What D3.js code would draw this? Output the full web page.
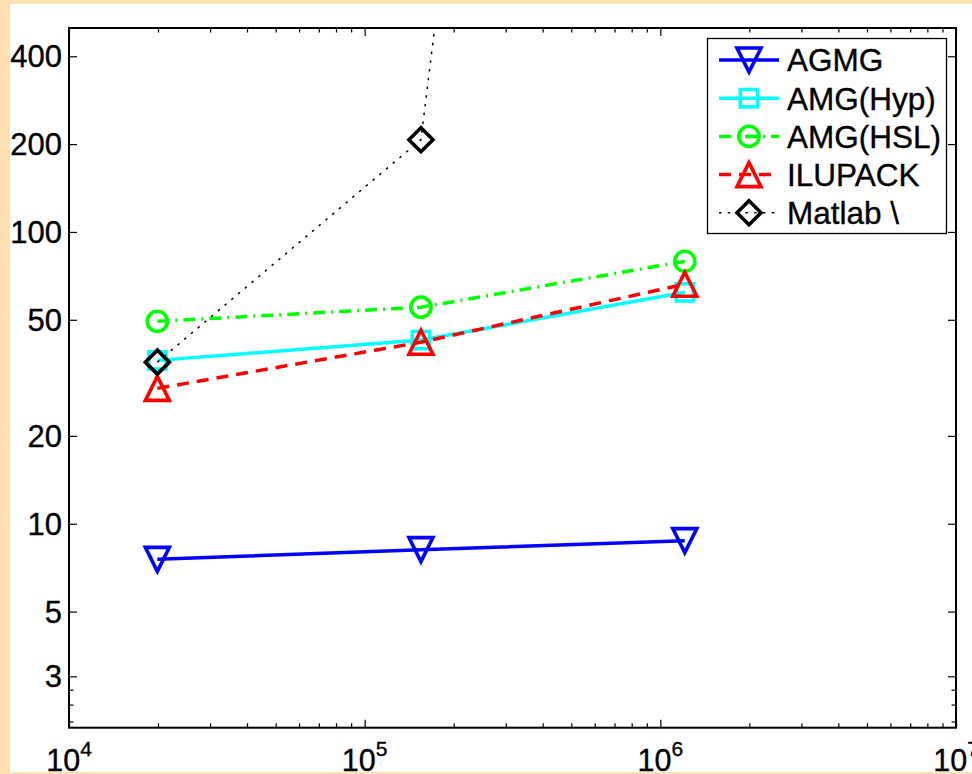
<!DOCTYPE html>
<html>
<head>
<meta charset="utf-8">
<script src="https://cdn.jsdelivr.net/npm/d3@7"></script>
<style>
  html, body { margin: 0; padding: 0; background: #FFE0B0; }
  svg { display: block; }
  text { font-family: "Liberation Sans", Arial, Helvetica, sans-serif; }
</style>
</head>
<body>
<svg id="chart" width="972" height="774"></svg>
<script>
// Problem sizes (x) and solve times (y) for each solver
const sizes = [19900, 155000, 1210000];
const seriesNames = ["AGMG", "AMG(Hyp)", "AMG(HSL)", "ILUPACK", "Matlab \\"];
const agmg    = [7.55, 8.15, 8.75];
const amgHyp  = [36.3, 42.6, 62.1];
const amgHsl  = [49.4, 55.2, 79.3];
const ilupack = [29.1, 41.9, 66.2];
const matlabBackslash = [35.8, 207, 4.7e9];

const yTickValues = [3, 5, 10, 20, 50, 100, 200, 400];
const xDecades = [1e4, 1e5, 1e6, 1e7];

const series = [
  { name: seriesNames[0], values: agmg,    color: "#0000FF", dash: null,        width: 3.5, marker: "tridown" },
  { name: seriesNames[1], values: amgHyp,  color: "#00FFFF", dash: null,        width: 3.5, marker: "square" },
  { name: seriesNames[2], values: amgHsl,  color: "#00FF00", dash: "12,6,2,6",  width: 3.5, marker: "circle" },
  { name: seriesNames[3], values: ilupack, color: "#FF0000", dash: "12,8",      width: 3.5, marker: "triup" },
  { name: seriesNames[4], values: matlabBackslash, color: "#000000", dash: "2.5,6.3", width: 1.5, marker: "diamond" }
];

const svg = d3.select("#chart");
const W = 972, H = 774;

// white figure panel on the tinted page
svg.append("rect").attr("x", 10).attr("y", 4).attr("width", W - 10).attr("height", 768).attr("fill", "#FFFFFF");

const axLeft = 69, axRight = 956, axTop = 28, axBottom = 727.7;
const x = d3.scaleLog().domain([1e4, 1e7]).range([axLeft, axRight]);
const y = d3.scaleLog().domain([2, 500]).range([axBottom, axTop]);

// minor ticks
const xMinor = [];
for (let d = 1e4; d < 1e7; d *= 10) for (let k = 2; k <= 9; k++) xMinor.push(d * k);
const yMinor = [2.1, 2.4, 2.7];

const g = svg.append("g");

function drawAxis(axisGen, transform) {
  const a = g.append("g").attr("transform", transform).call(axisGen);
  a.select(".domain").remove();
  a.selectAll("line").attr("stroke", "#000").attr("stroke-width", 1.2);
  a.selectAll("text").remove();
  return a;
}
// bottom / top major + minor
drawAxis(d3.axisBottom(x).tickValues(xDecades).tickSize(-8), `translate(0,${axBottom})`);
drawAxis(d3.axisBottom(x).tickValues(xMinor).tickSize(-4.5), `translate(0,${axBottom})`);
drawAxis(d3.axisTop(x).tickValues(xDecades).tickSize(-8), `translate(0,${axTop})`);
drawAxis(d3.axisTop(x).tickValues(xMinor).tickSize(-4.5), `translate(0,${axTop})`);
// left / right major + minor
drawAxis(d3.axisLeft(y).tickValues(yTickValues).tickSize(-8), `translate(${axLeft},0)`);
drawAxis(d3.axisLeft(y).tickValues(yMinor).tickSize(-4.5), `translate(${axLeft},0)`);
drawAxis(d3.axisRight(y).tickValues(yTickValues).tickSize(-8), `translate(${axRight},0)`);
drawAxis(d3.axisRight(y).tickValues(yMinor).tickSize(-4.5), `translate(${axRight},0)`);

// axes box
g.append("rect").attr("x", axLeft).attr("y", axTop).attr("width", axRight - axLeft).attr("height", axBottom - axTop)
  .attr("fill", "none").attr("stroke", "#000").attr("stroke-width", 2);

// y tick labels
g.selectAll(".ylab").data(yTickValues).enter().append("text")
  .attr("x", axLeft - 7).attr("y", d => y(d)).attr("dy", "0.36em")
  .attr("text-anchor", "end").attr("font-size", 31).attr("fill", "#000")
  .attr("stroke", "#000").attr("stroke-width", 0.35)
  .text(d => d);

// x tick labels 10^k
const xl = g.selectAll(".xlab").data(xDecades).enter().append("text")
  .attr("x", d => x(d)).attr("y", 771).attr("text-anchor", "middle").attr("font-size", 30.5)
  .attr("fill", "#000").attr("stroke", "#000").attr("stroke-width", 0.35);
xl.append("tspan").text("10");
xl.append("tspan").attr("font-size", 21).attr("dy", -15).text(d => Math.round(Math.log10(d)));

// clipped data lines
svg.append("clipPath").attr("id", "plotclip").append("rect")
  .attr("x", axLeft).attr("y", axTop).attr("width", axRight - axLeft).attr("height", axBottom - axTop);

const line = d3.line().x(d => x(d[0])).y(d => y(d[1]));

function markerPath(type, s) {
  const h = s / 2;
  switch (type) {
    case "tridown": return `M${-h},${-h}L${h},${-h}L0,${h}Z`;
    case "triup":   return `M${-h},${h}L${h},${h}L0,${-h}Z`;
    case "square":  { const q = s * 0.36; return `M${-q},${-q}H${q}V${q}H${-q}Z`; }
    case "diamond": return `M0,${-h}L${h},0L0,${h}L${-h},0Z`;
    case "circle":  { const r = s * 0.42; return `M${r},0A${r},${r} 0 1,1 ${-r},0A${r},${r} 0 1,1 ${r},0Z`; }
  }
}

const plot = svg.append("g").attr("clip-path", "url(#plotclip)");
series.forEach(s => {
  const pts = sizes.map((n, i) => [n, s.values[i]]);
  plot.append("path").datum(pts).attr("d", line)
    .attr("fill", "none").attr("stroke", s.color).attr("stroke-width", s.width)
    .attr("stroke-dasharray", s.dash);
  plot.selectAll(null).data(pts).enter().append("path")
    .attr("transform", d => `translate(${x(d[0])},${y(d[1])})`)
    .attr("d", markerPath(s.marker, 24))
    .attr("fill", "none").attr("stroke", s.color).attr("stroke-width", 3.6).attr("stroke-linejoin", "miter");
});

// legend
const lg = svg.append("g");
lg.append("rect").attr("x", 707.5).attr("y", 38.5).attr("width", 239).attr("height", 195)
  .attr("fill", "#FFFFFF").attr("stroke", "#000").attr("stroke-width", 1.3);
series.forEach((s, i) => {
  const cy = 60 + i * 38.2;
  lg.append("line").attr("x1", 719).attr("x2", 779).attr("y1", cy).attr("y2", cy)
    .attr("stroke", s.color).attr("stroke-width", s.width).attr("stroke-dasharray", s.dash);
  lg.append("path").attr("transform", `translate(749,${cy})`).attr("d", markerPath(s.marker, 24))
    .attr("fill", "none").attr("stroke", s.color).attr("stroke-width", 3.6);
  lg.append("text").attr("x", 787).attr("y", cy).attr("dy", "0.36em")
    .attr("font-size", 31.5).attr("fill", "#000").attr("stroke", "#000").attr("stroke-width", 0.35)
    .text(s.name);
});
</script>
</body>
</html>
